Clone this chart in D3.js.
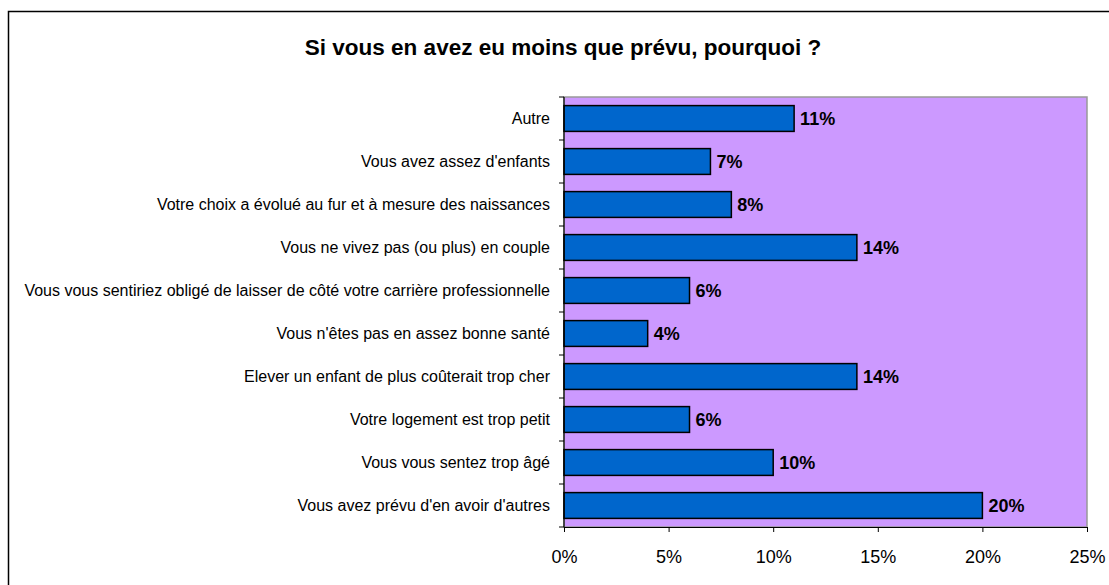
<!DOCTYPE html>
<html>
<head>
<meta charset="utf-8">
<title>Si vous en avez eu moins que prévu</title>
<script src="https://cdn.jsdelivr.net/npm/d3@7"></script>
<style>
  body { margin: 0; background: #fff; }
  svg text { font-family: "Liberation Sans", Arial, sans-serif; fill: #000; }
</style>
</head>
<body>
<div id="chart"></div>
<script>
// data, top to bottom as shown
const categories = [
  "Autre",
  "Vous avez assez d'enfants",
  "Votre choix a évolué au fur et à mesure des naissances",
  "Vous ne vivez pas (ou plus) en couple",
  "Vous vous sentiriez obligé de laisser de côté votre carrière professionnelle",
  "Vous n'êtes pas en assez bonne santé",
  "Elever un enfant de plus coûterait trop cher",
  "Votre logement est trop petit",
  "Vous vous sentez trop âgé",
  "Vous avez prévu d'en avoir d'autres"
];
const values = [11, 7, 8, 14, 6, 4, 14, 6, 10, 20];
const xTicks = [0, 5, 10, 15, 20, 25];
const title = "Si vous en avez eu moins que prévu, pourquoi ?";

const W = 1109, H = 585;
const margin = { top: 97, right: 22, bottom: 58, left: 564 };
const width = W - margin.left - margin.right;
const height = H - margin.top - margin.bottom;

const svg = d3.select("#chart").append("svg")
  .attr("width", W)
  .attr("height", H);

// outer chart border (runs off the right and bottom)
svg.append("rect")
  .attr("x", 8.5).attr("y", 11.5)
  .attr("width", W + 20).attr("height", H + 20)
  .attr("fill", "#fff")
  .attr("stroke", "#000")
  .attr("stroke-width", 1.5);

svg.append("text")
  .attr("x", 563).attr("y", 55)
  .attr("text-anchor", "middle")
  .style("font-size", "22.5px")
  .style("font-weight", "bold")
  .text(title);

const g = svg.append("g")
  .attr("transform", `translate(${margin.left},${margin.top})`);

const x = d3.scaleLinear().domain([0, 25]).range([0, width]);
const y = d3.scaleBand().domain(categories).range([0, height])
  .paddingInner(0.4).paddingOuter(0.2);

// plot area
g.append("rect")
  .attr("width", width).attr("height", height)
  .attr("fill", "#CC99FF")
  .attr("stroke", "#999")
  .attr("stroke-width", 1.5);

g.selectAll(".bar")
  .data(values)
  .join("rect")
  .attr("class", "bar")
  .attr("x", 0)
  .attr("y", (d, i) => y(categories[i]))
  .attr("width", d => x(d))
  .attr("height", y.bandwidth())
  .attr("fill", "#0066CC")
  .attr("stroke", "#000")
  .attr("stroke-width", 1.5);

g.selectAll(".val")
  .data(values)
  .join("text")
  .attr("class", "val")
  .attr("x", d => x(d) + 6)
  .attr("y", (d, i) => y(categories[i]) + y.bandwidth() / 2)
  .attr("dy", "0.36em")
  .style("font-size", "18px")
  .style("font-weight", "bold")
  .text(d => d + "%");

// x axis
const xAxis = g.append("g")
  .attr("transform", `translate(0,${height})`)
  .call(d3.axisBottom(x).tickValues(xTicks).tickFormat(d => d + "%").tickSize(5).tickSizeOuter(0));
xAxis.select(".domain").attr("stroke", "#000").attr("stroke-width", 1.2);
xAxis.selectAll(".tick line").attr("stroke", "#000");
xAxis.selectAll(".tick text")
  .attr("y", 23)
  .style("font-size", "18px")
  .style("font-family", "Liberation Sans, Arial, sans-serif");

// y axis: ticks sit on band boundaries
const step = y.step();
const bounds = d3.range(categories.length + 1).map(i => i * step);
g.append("line")
  .attr("x1", 0).attr("x2", 0).attr("y1", 0).attr("y2", height)
  .attr("stroke", "#000").attr("stroke-width", 1.2);
g.selectAll(".ytick")
  .data(bounds)
  .join("line")
  .attr("class", "ytick")
  .attr("x1", -5).attr("x2", 0)
  .attr("y1", d => d).attr("y2", d => d)
  .attr("stroke", "#000");

g.selectAll(".cat")
  .data(categories)
  .join("text")
  .attr("class", "cat")
  .attr("x", -14)
  .attr("y", d => y(d) + y.bandwidth() / 2)
  .attr("dy", "0.36em")
  .attr("text-anchor", "end")
  .style("font-size", "16px")
  .text(d => d);
</script>
</body>
</html>
